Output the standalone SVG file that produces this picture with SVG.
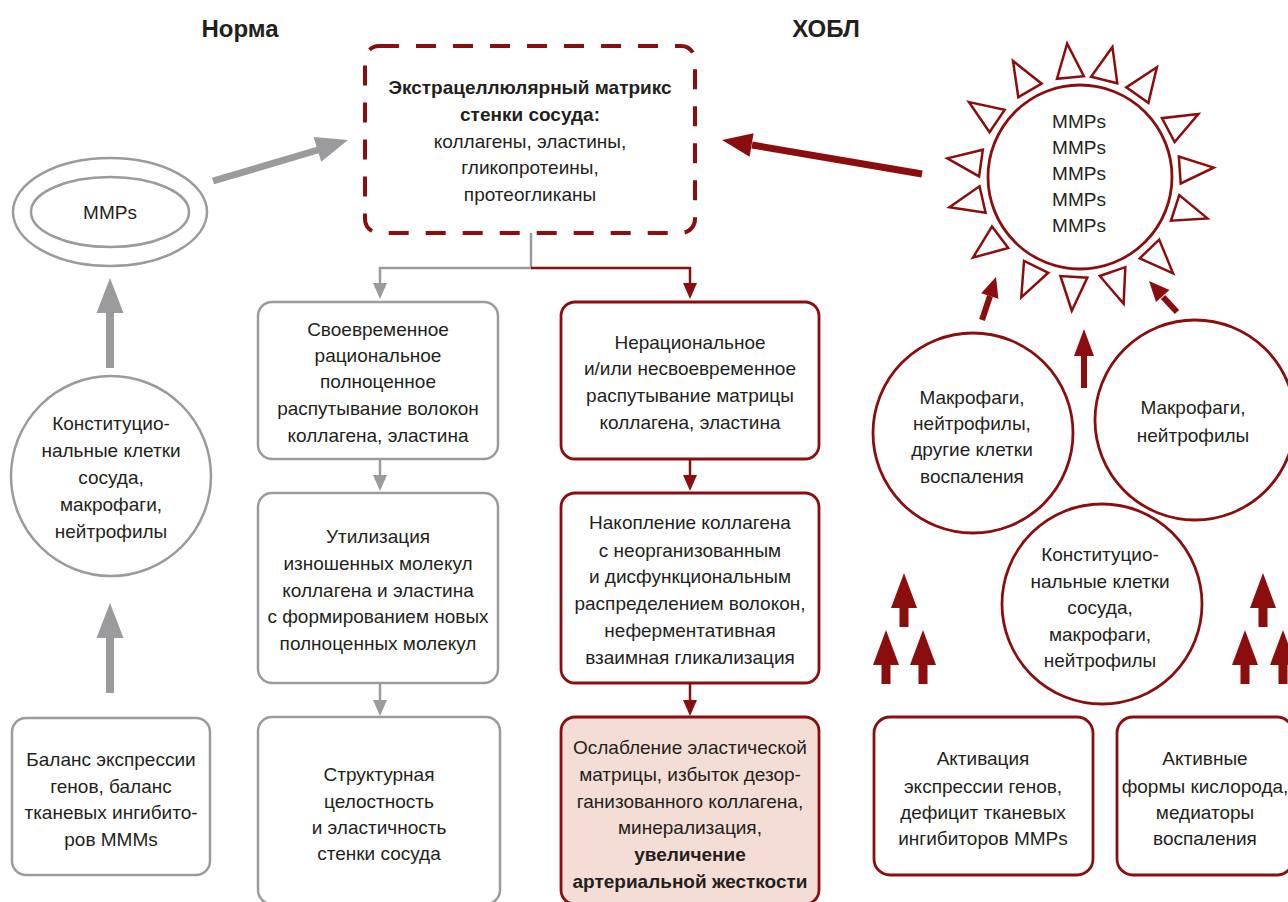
<svg xmlns="http://www.w3.org/2000/svg" xmlns:xlink="http://www.w3.org/1999/xlink" width="1288" height="902" viewBox="0 0 1288 902">
<style>
.t{font-family:"Liberation Sans",Arial,sans-serif;font-size:19px;fill:#231f20;text-anchor:middle}
.b{font-weight:bold}
.h{font-family:"Liberation Sans",Arial,sans-serif;font-size:24px;font-weight:bold;fill:#231f20;text-anchor:middle}
.gbox{fill:#fff;stroke:#9b9b9d;stroke-width:2.5}
.rbox{fill:#fff;stroke:#8b0d0d;stroke-width:2.8}
.tri{fill:#fff;stroke:#8b0d0d;stroke-width:2.5}
.gl{fill:none;stroke:#9b9b9d;stroke-width:2.5}
.rl{fill:none;stroke:#8b0d0d;stroke-width:2.5}
.gf{fill:#9b9b9d}
.rf{fill:#8b0d0d}
</style>
<defs>
<polygon id="tri" points="0,-34 -13.5,0 13.5,0"/>
</defs>
<rect width="1288" height="902" fill="#fff"/>

<text class="h" x="240" y="37">Норма</text>
<text class="h" x="826" y="37">ХОБЛ</text>

<g id="connectors">
<path class="gl" d="M531,233 V268 H380 V284"/>
<polygon class="gf" points="373,283 387,283 380,299"/>
<path class="rl" d="M531,268 H690 V284"/>
<polygon class="rf" points="683,283 697,283 690,299"/>
<path class="gl" d="M380,459 V476"/>
<polygon class="gf" points="373,475 387,475 380,491"/>
<path class="gl" d="M380,683 V701"/>
<polygon class="gf" points="373,700 387,700 380,716"/>
<path class="rl" d="M690,459 V476"/>
<polygon class="rf" points="683,475 697,475 690,491"/>
<path class="rl" d="M690,683 V701"/>
<polygon class="rf" points="683,700 697,700 690,716"/>

<polygon class="gf" points="110,278 123.5,313 114,313 114,368 106,368 106,313 96.5,313"/>
<polygon class="gf" points="110,603 123.5,638 114,638 114,693 106,693 106,638 96.5,638"/>
<line x1="213" y1="181" x2="318" y2="150" stroke="#9b9b9d" stroke-width="7"/>
<polygon class="gf" points="348,140 321.2,161.7 313.6,136.9"/>

<line x1="922" y1="174" x2="752" y2="145" stroke="#8b0d0d" stroke-width="7"/>
<polygon class="rf" points="722,140 753.6,133.2 749.6,156.8"/>
<line x1="982" y1="320" x2="990" y2="296" stroke="#8b0d0d" stroke-width="6"/>
<polygon class="rf" points="996,277 998.4,298.8 981.2,293.2"/>
<line x1="1177" y1="312" x2="1163" y2="297" stroke="#8b0d0d" stroke-width="6"/>
<polygon class="rf" points="1149,281 1169.5,290 1156,302"/>
<polygon class="rf" points="1084,329 1094,356 1087,356 1087,388 1081,388 1081,356 1074,356"/>

<polygon class="rf" points="904,573 917,608 908.5,608 908.5,627 899.5,627 899.5,608 891,608"/>
<polygon class="rf" points="886,630 899,665 890.5,665 890.5,684 881.5,684 881.5,665 873,665"/>
<polygon class="rf" points="923,630 936,665 927.5,665 927.5,684 918.5,684 918.5,665 910,665"/>
<polygon class="rf" points="1263,573 1276,608 1267.5,608 1267.5,627 1258.5,627 1258.5,608 1250,608"/>
<polygon class="rf" points="1245,630 1258,665 1249.5,665 1249.5,684 1240.5,684 1240.5,665 1232,665"/>
<polygon class="rf" points="1283,630 1296,665 1287.5,665 1287.5,684 1278.5,684 1278.5,665 1270,665"/>
</g>

<g id="ecm">
<rect x="365" y="46" width="330" height="187" rx="14" fill="#fff" stroke="#8b0d0d" stroke-width="4" stroke-dasharray="20 17"/>
<text class="t b" x="530" y="94">Экстрацеллюлярный матрикс</text>
<text class="t b" x="530" y="121">стенки сосуда:</text>
<text class="t" x="530" y="148">коллагены, эластины,</text>
<text class="t" x="530" y="174">гликопротеины,</text>
<text class="t" x="530" y="201">протеогликаны</text>
</g>

<g id="mmps-norm">
<ellipse cx="110" cy="212" rx="97" ry="54" fill="#fff" stroke="#9b9b9d" stroke-width="2.5"/>
<ellipse cx="110" cy="212" rx="79" ry="35" fill="#fff" stroke="#9b9b9d" stroke-width="2.5"/>
<text class="t" x="110" y="219">MMPs</text>
</g>

<g id="cells-norm">
<circle cx="111" cy="476" r="100" class="gbox"/>
<text class="t" x="111" y="430">Конституцио-</text>
<text class="t" x="111" y="457">нальные клетки</text>
<text class="t" x="111" y="484">сосуда,</text>
<text class="t" x="111" y="511">макрофаги,</text>
<text class="t" x="111" y="538">нейтрофилы</text>
</g>

<g id="balance">
<rect x="12" y="718" width="198" height="157" rx="14" class="gbox"/>
<text class="t" x="111" y="766">Баланс экспрессии</text>
<text class="t" x="111" y="793">генов, баланс</text>
<text class="t" x="111" y="819">тканевых ингибито-</text>
<text class="t" x="111" y="846">ров MMMs</text>
</g>

<g id="norm1">
<rect x="258" y="302" width="240" height="157" rx="14" class="gbox"/>
<text class="t" x="378" y="336">Своевременное</text>
<text class="t" x="378" y="362">рациональное</text>
<text class="t" x="378" y="388">полноценное</text>
<text class="t" x="378" y="415">распутывание волокон</text>
<text class="t" x="378" y="442">коллагена, эластина</text>
</g>

<g id="norm2">
<rect x="258" y="493" width="240" height="190" rx="14" class="gbox"/>
<text class="t" x="378" y="543">Утилизация</text>
<text class="t" x="378" y="570">изношенных молекул</text>
<text class="t" x="378" y="597">коллагена и эластина</text>
<text class="t" x="378" y="623">с формированием новых</text>
<text class="t" x="378" y="650">полноценных молекул</text>
</g>

<g id="norm3">
<rect x="258" y="717" width="242" height="187" rx="14" class="gbox"/>
<text class="t" x="379" y="781">Структурная</text>
<text class="t" x="379" y="808">целостность</text>
<text class="t" x="379" y="834">и эластичность</text>
<text class="t" x="379" y="860">стенки сосуда</text>
</g>

<g id="copd1">
<rect x="561" y="302" width="258" height="157" rx="14" class="rbox"/>
<text class="t" x="690" y="349">Нерациональное</text>
<text class="t" x="690" y="375">и/или несвоевременное</text>
<text class="t" x="690" y="402">распутывание матрицы</text>
<text class="t" x="690" y="429">коллагена, эластина</text>
</g>

<g id="copd2">
<rect x="561" y="493" width="258" height="190" rx="14" class="rbox"/>
<text class="t" x="690" y="529">Накопление коллагена</text>
<text class="t" x="690" y="557">с неорганизованным</text>
<text class="t" x="690" y="583">и дисфункциональным</text>
<text class="t" x="690" y="610">распределением волокон,</text>
<text class="t" x="690" y="637">неферментативная</text>
<text class="t" x="690" y="664">взаимная гликализация</text>
</g>

<g id="copd3">
<rect x="561" y="717" width="258" height="187" rx="14" fill="#f3ddd5" stroke="#8b0d0d" stroke-width="2.8"/>
<text class="t" x="690" y="754">Ослабление эластической</text>
<text class="t" x="690" y="781">матрицы, избыток дезор-</text>
<text class="t" x="690" y="808">ганизованного коллагена,</text>
<text class="t" x="690" y="834">минерализация,</text>
<text class="t b" x="690" y="861">увеличение</text>
<text class="t b" x="690" y="888">артериальной жесткости</text>
</g>

<g id="mmps-copd">
<circle cx="1080" cy="177" r="92" fill="#fff" stroke="#8b0d0d" stroke-width="2.8"/>
<use xlink:href="#tri" class="tri" transform="translate(1080,177) rotate(-5.5) translate(0,-100)"/>
<use xlink:href="#tri" class="tri" transform="translate(1080,177) rotate(14) translate(0,-100)"/>
<use xlink:href="#tri" class="tri" transform="translate(1080,177) rotate(35) translate(0,-100)"/>
<use xlink:href="#tri" class="tri" transform="translate(1080,177) rotate(62) translate(0,-100)"/>
<use xlink:href="#tri" class="tri" transform="translate(1080,177) rotate(86) translate(0,-100)"/>
<use xlink:href="#tri" class="tri" transform="translate(1080,177) rotate(108) translate(0,-100)"/>
<use xlink:href="#tri" class="tri" transform="translate(1080,177) rotate(136) translate(0,-100)"/>
<use xlink:href="#tri" class="tri" transform="translate(1080,177) rotate(161) translate(0,-100)"/>
<use xlink:href="#tri" class="tri" transform="translate(1080,177) rotate(183.5) translate(0,-100)"/>
<use xlink:href="#tri" class="tri" transform="translate(1080,177) rotate(206) translate(0,-100)"/>
<use xlink:href="#tri" class="tri" transform="translate(1080,177) rotate(233) translate(0,-100)"/>
<use xlink:href="#tri" class="tri" transform="translate(1080,177) rotate(257) translate(0,-100)"/>
<use xlink:href="#tri" class="tri" transform="translate(1080,177) rotate(278) translate(0,-100)"/>
<use xlink:href="#tri" class="tri" transform="translate(1080,177) rotate(304) translate(0,-100)"/>
<use xlink:href="#tri" class="tri" transform="translate(1080,177) rotate(330) translate(0,-100)"/>
<text class="t" x="1079" y="128">MMPs</text>
<text class="t" x="1079" y="154">MMPs</text>
<text class="t" x="1079" y="180">MMPs</text>
<text class="t" x="1079" y="206">MMPs</text>
<text class="t" x="1079" y="232">MMPs</text>
</g>

<g id="cells-a">
<circle cx="973" cy="433" r="100" class="rbox"/>
<text class="t" x="972" y="404">Макрофаги,</text>
<text class="t" x="972" y="430">нейтрофилы,</text>
<text class="t" x="972" y="456">другие клетки</text>
<text class="t" x="972" y="483">воспаления</text>
</g>

<g id="cells-b">
<circle cx="1195" cy="420" r="100" class="rbox"/>
<text class="t" x="1193" y="414">Макрофаги,</text>
<text class="t" x="1193" y="442">нейтрофилы</text>
</g>

<g id="cells-c">
<circle cx="1102" cy="604" r="100" class="rbox"/>
<text class="t" x="1100" y="561">Конституцио-</text>
<text class="t" x="1100" y="588">нальные клетки</text>
<text class="t" x="1100" y="614">сосуда,</text>
<text class="t" x="1100" y="641">макрофаги,</text>
<text class="t" x="1100" y="667">нейтрофилы</text>
</g>

<g id="activation">
<rect x="874" y="717" width="219" height="158" rx="16" class="rbox"/>
<text class="t" x="983" y="765">Активация</text>
<text class="t" x="983" y="793">экспрессии генов,</text>
<text class="t" x="983" y="819">дефицит тканевых</text>
<text class="t" x="983" y="845">ингибиторов MMPs</text>
</g>

<g id="ros">
<rect x="1117" y="717" width="176" height="158" rx="16" class="rbox"/>
<text class="t" x="1205" y="765">Активные</text>
<text class="t" x="1205" y="793">формы кислорода,</text>
<text class="t" x="1205" y="819">медиаторы</text>
<text class="t" x="1205" y="845">воспаления</text>
</g>
</svg>
